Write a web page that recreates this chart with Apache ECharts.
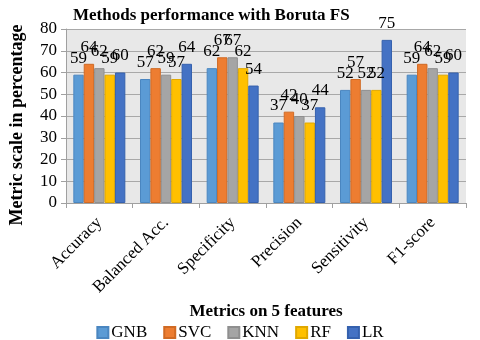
<!DOCTYPE html>
<html><head><meta charset="utf-8">
<script src="https://cdn.jsdelivr.net/npm/echarts@6/dist/echarts.min.js"></script>
<style>html,body{margin:0;padding:0;background:#fff}#c{width:480px;height:340px}</style>
</head><body><div id="c"></div>
<script>
const categories = ['Accuracy','Balanced Acc.','Specificity','Precision','Sensitivity','F1-score'];
const seriesNames = ['GNB','SVC','KNN','RF','LR'];
const GNB = [59,57,62,37,52,59];
const SVC = [64,62,67,42,57,64];
const KNN = [62,59,67,40,52,62];
const RF  = [59,57,62,37,52,59];
const LR  = [60,64,54,44,75,60];
const yTicks = [0,10,20,30,40,50,60,70,80];
const values = [GNB,SVC,KNN,RF,LR];
const colors = ['#5B9BD5','#ED7D31','#A5A5A5','#FFC000','#4472C4'];
const borders = ['#4a86c0','#d06a24','#8f8f8f','#e0a800','#3561ae'];
const font = 'Liberation Serif, Times New Roman, serif';
const chart = echarts.init(document.getElementById('c'));
chart.setOption({
  animation:false,
  textStyle:{fontFamily:font},
  title:{text:'Methods performance with Boruta FS',left:68,top:2,textStyle:{fontFamily:font,fontSize:17,fontWeight:'bold',color:'#000'}},
  grid:{left:58,right:14,top:29,bottom:137,show:true,backgroundColor:'#e8e8e8',borderWidth:0},
  legend:{top:319,left:'center',itemWidth:11,itemHeight:11,itemGap:16,icon:'rect',
    textStyle:{fontFamily:font,fontSize:17,color:'#000',padding:[0,0,0,-2]},data:seriesNames},
  xAxis:{type:'category',data:categories,
    name:'Metrics on 5 features',nameLocation:'middle',nameGap:92,
    nameTextStyle:{fontFamily:font,fontSize:17,fontWeight:'bold',color:'#000'},
    axisLine:{lineStyle:{color:'#a0a0a0'}},axisTick:{show:true,length:5,lineStyle:{color:'#a0a0a0'}},
    axisLabel:{rotate:45,fontFamily:font,fontSize:17,color:'#000',margin:17}},
  yAxis:{type:'value',min:0,max:80,interval:10,
    name:'Metric scale in percentage',nameLocation:'middle',nameGap:40,
    nameTextStyle:{fontFamily:font,fontSize:18,fontWeight:'bold',color:'#000',padding:[0,0,0,-18]},
    axisLine:{show:true,lineStyle:{color:'#a0a0a0'}},axisTick:{show:true,length:5,lineStyle:{color:'#a0a0a0'}},
    splitLine:{lineStyle:{color:'#a8a8a8'}},
    axisLabel:{fontFamily:font,fontSize:17,color:'#000',margin:9,formatter:v=>yTicks.includes(v)?String(v):''}},
  series:seriesNames.map((n,i)=>({
    name:n,type:'bar',data:values[i],barGap:'0%',barCategoryGap:'22%',
    itemStyle:{color:colors[i],borderColor:borders[i],borderWidth:1},
    label:{show:true,position:'top',distance:8,fontFamily:font,fontSize:17,color:'#000'}
  }))
});
</script></body></html>
